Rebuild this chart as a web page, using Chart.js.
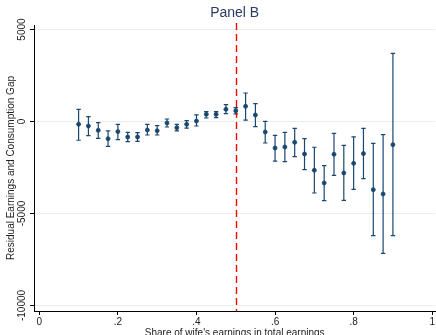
<!DOCTYPE html>
<html>
<head>
<meta charset="utf-8">
<script src="https://cdn.jsdelivr.net/npm/chart.js@4"></script>
<style>
  html, body { margin: 0; padding: 0; background: #fff; }
  canvas { display: block; }
</style>
</head>
<body>
<canvas id="gapChart" width="436" height="335"></canvas>
<script>
// share of wife's earnings (bin midpoints)
var shareBins = [0.1, 0.125, 0.15, 0.175, 0.2, 0.225, 0.25, 0.275, 0.3, 0.325, 0.35,
    0.375, 0.4, 0.425, 0.45, 0.475, 0.5, 0.525, 0.55, 0.575, 0.6, 0.625, 0.65,
    0.675, 0.7, 0.725, 0.75, 0.775, 0.8, 0.825, 0.85, 0.875, 0.9];
var gapEstimate = [-150, -245, -480, -935, -550, -840, -840, -460, -500, -80, -335,
    -155, 25, 390, 390, 660, 590, 825, 355, -570, -1440, -1385, -1130,
    -1765, -2650, -3340, -1785, -2800, -2275, -1745, -3705, -3940, -1260];
var ciUpper = [660, 260, -65, -515, -155, -590, -605, -155, -225, 135, -155,
    45, 355, 535, 535, 915, 750, 1550, 970, 10, -750, -590, -370,
    -935, -1400, -2400, -645, -1295, -840, -370, -1185, -715, 3700];
var ciLower = [-1020, -770, -915, -1350, -990, -1095, -1080, -735, -735, -300, -515,
    -355, -245, 190, 210, 425, 410, 80, -280, -1170, -2150, -2180, -1910,
    -2620, -3885, -4300, -2925, -4285, -3690, -3110, -6205, -7165, -6205];

var xTicks = [0, 0.2, 0.4, 0.6, 0.8, 1];
var yTicks = [-10000, -5000, 0, 5000];
var cutoff = 0.5;

var navy = '#1a476f';
var fontFamily = '"Liberation Sans", Arial, sans-serif';

var points = shareBins.map(function (x, i) {
    return { x: x, y: gapEstimate[i] };
});

// error bars + the red cutoff line, drawn under the markers
var errorBarPlugin = {
    id: 'errorBars',
    beforeDatasetsDraw: function (chart) {
        var ctx = chart.ctx;
        var xs = chart.scales.x, ys = chart.scales.y;
        ctx.save();
        ctx.strokeStyle = navy;
        ctx.lineWidth = 1.2;
        for (var i = 0; i < shareBins.length; i++) {
            var px = xs.getPixelForValue(shareBins[i]);
            var top = ys.getPixelForValue(ciUpper[i]);
            var bot = ys.getPixelForValue(ciLower[i]);
            ctx.beginPath();
            ctx.moveTo(px, top);
            ctx.lineTo(px, bot);
            ctx.moveTo(px - 2.2, top);
            ctx.lineTo(px + 2.2, top);
            ctx.moveTo(px - 2.2, bot);
            ctx.lineTo(px + 2.2, bot);
            ctx.stroke();
        }
        // vertical dashed line at 0.5
        var cx = Math.round(xs.getPixelForValue(cutoff)) + 0.5;
        ctx.strokeStyle = '#ff0000';
        ctx.lineWidth = 1.4;
        ctx.setLineDash([7, 4]);
        ctx.beginPath();
        ctx.moveTo(cx, chart.chartArea.top - 2);
        ctx.lineTo(cx, chart.chartArea.bottom);
        ctx.stroke();
        ctx.restore();
    },
    afterDraw: function (chart) {
        // rotated y tick labels (Stata style)
        var ctx = chart.ctx;
        var ys = chart.scales.y;
        ctx.save();
        ctx.fillStyle = '#222';
        ctx.font = '10px ' + fontFamily;
        ctx.textAlign = 'center';
        ctx.textBaseline = 'middle';
        yTicks.forEach(function (v) {
            var py = ys.getPixelForValue(v);
            ctx.save();
            ctx.translate(22, py);
            ctx.rotate(-Math.PI / 2);
            ctx.fillText(String(v), 0, 0);
            ctx.restore();
        });
        ctx.restore();
    }
};

new Chart(document.getElementById('gapChart'), {
    type: 'scatter',
    data: {
        datasets: [{
            data: points,
            pointRadius: 2,
            pointBackgroundColor: navy,
            pointBorderColor: navy,
            pointBorderWidth: 0.8,
            showLine: false
        }]
    },
    options: {
        responsive: false,
        devicePixelRatio: 1,
        animation: false,
        layout: { padding: 0, autoPadding: false },
        plugins: {
            legend: { display: false },
            tooltip: { enabled: false },
            title: {
                display: true,
                text: 'Panel B',
                fullSize: false,
                color: '#2a3b5e',
                font: { family: fontFamily, size: 14, weight: 'normal' },
                padding: { top: 5, bottom: 3.2 }
            }
        },
        scales: {
            x: {
                type: 'linear',
                min: -0.0135,
                max: 1.008,
                afterBuildTicks: function (scale) {
                    scale.ticks = xTicks.map(function (v) { return { value: v }; });
                },
                afterFit: function (scale) { scale.height = 24; },
                ticks: {
                    color: '#222',
                    font: { family: fontFamily, size: 10 },
                    padding: 1,
                    maxRotation: 0,
                    callback: function (v) {
                        if (v === 0) return '0';
                        if (v === 1) return '1';
                        return String(Math.round(v * 10) / 10).replace('0.', '.');
                    }
                },
                grid: {
                    drawOnChartArea: false,
                    tickLength: 4,
                    tickColor: '#000'
                },
                border: { color: '#000', width: 1 },
                title: {
                    display: true,
                    text: "Share of wife's earnings in total earnings",
                    color: '#222',
                    font: { family: fontFamily, size: 10 },
                    padding: { top: 0, bottom: -4.5 }
                }
            },
            y: {
                type: 'linear',
                min: -10300,
                max: 5245,
                afterBuildTicks: function (scale) {
                    scale.ticks = yTicks.map(function (v) { return { value: v }; });
                },
                afterFit: function (scale) { scale.width = 34; },
                ticks: { display: false },
                grid: {
                    color: '#e6eef0',
                    lineWidth: 1,
                    tickLength: 4,
                    tickColor: '#000'
                },
                border: { color: '#000', width: 1 },
                title: {
                    display: true,
                    text: 'Residual Earnings and Consumption Gap',
                    color: '#222',
                    font: { family: fontFamily, size: 10 },
                    padding: { top: 5.5, bottom: 0 }
                }
            }
        }
    },
    plugins: [errorBarPlugin]
});
</script>
</body>
</html>
